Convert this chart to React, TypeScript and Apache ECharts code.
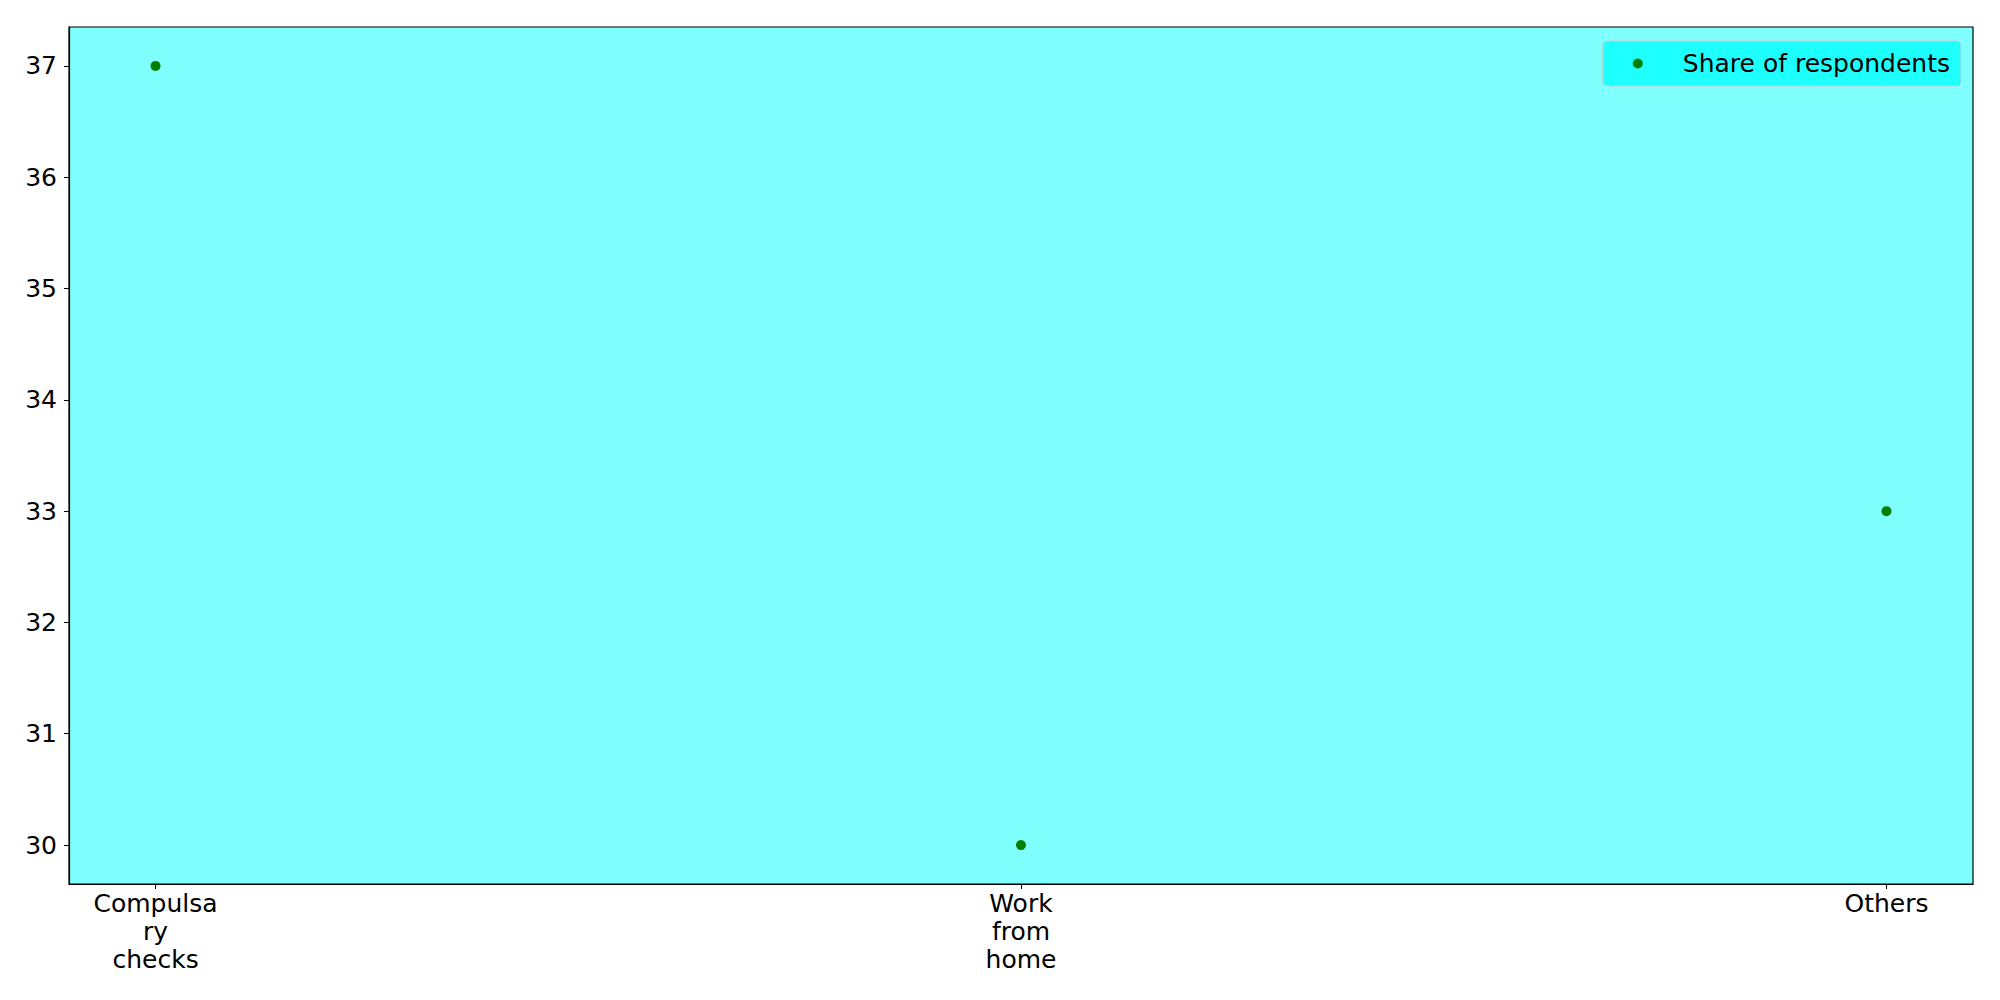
import React, { useEffect, useRef } from "react";
import * as echarts from "echarts";

const categories = ["Compulsa\nry\nchecks", "Work\nfrom\nhome", "Others"];
const shareValues = [37, 30, 33];
const yTicks = [30, 31, 32, 33, 34, 35, 36, 37];
const seriesName = "Share of respondents";

export default function App() {
  const ref = useRef<HTMLDivElement>(null);
  useEffect(() => {
    if (!ref.current) return;
    const chart = echarts.init(ref.current, null, { renderer: "svg" });
    const font = "DejaVu Sans";
    chart.setOption({
      animation: false,
      backgroundColor: "#ffffff",
      textStyle: { fontFamily: font },
      grid: {
        left: 69,
        top: 27,
        right: 27,
        bottom: 116,
        show: true,
        backgroundColor: "#80ffff",
        borderColor: "#000000",
        borderWidth: 1.2,
      },
      legend: {
        data: [seriesName],
        right: 39,
        top: 41,
        backgroundColor: "#1effff",
        borderColor: "#cccccc",
        borderWidth: 1,
        borderRadius: 4,
        padding: [10, 11, 10, 30],
        itemWidth: 10,
        itemHeight: 10,
        icon: "circle",
        itemStyle: { opacity: 1, color: "#008000" },
        textStyle: {
          fontFamily: font,
          fontSize: 25,
          color: "#000000",
          padding: [0, 0, 0, 35],
        },
      },
      xAxis: {
        type: "value",
        min: -0.1,
        max: 2.1,
        splitLine: { show: false },
        axisLine: { show: true, onZero: false, lineStyle: { color: "#000000", width: 1.2 } },
        axisTick: {
          show: true,
          length: 5,
          lineStyle: { color: "#000000" },
          customValues: categories.map((_, i) => i),
        },
        axisLabel: {
          customValues: categories.map((_, i) => i),
          formatter: (v: number) => categories[Math.round(v)] ?? "",
          fontFamily: font,
          fontSize: 25,
          lineHeight: 28,
          color: "#000000",
          margin: 5,
          align: "center",
        },
      },
      yAxis: {
        type: "value",
        min: 29.65,
        max: 37.35,
        splitLine: { show: false },
        axisLine: { show: true, onZero: false, lineStyle: { color: "#000000", width: 1.2 } },
        axisTick: {
          show: true,
          length: 5,
          lineStyle: { color: "#000000" },
          customValues: yTicks,
        },
        axisLabel: {
          customValues: yTicks,
          fontFamily: font,
          fontSize: 25,
          color: "#000000",
          margin: 12,
        },
      },
      series: [
        {
          name: seriesName,
          type: "scatter",
          symbol: "circle",
          symbolSize: 10,
          itemStyle: { color: "#008000", opacity: 1 },
          data: shareValues.map((v, i) => [i, v]),
        },
      ],
    });
    return () => chart.dispose();
  }, []);
  return (
    <div
      ref={ref}
      style={{ position: "fixed", left: 0, top: 0, width: 2000, height: 1000 }}
    />
  );
}
